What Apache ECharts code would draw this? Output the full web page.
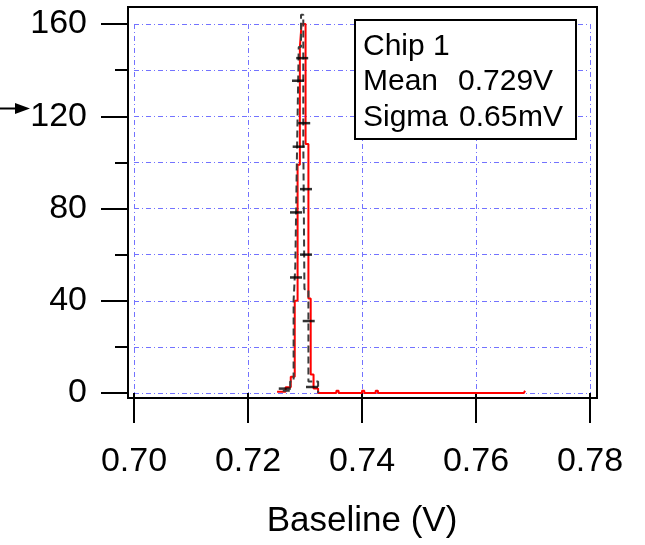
<!DOCTYPE html>
<html>
<head>
<meta charset="utf-8">
<script src="https://cdn.jsdelivr.net/npm/echarts@6/dist/echarts.min.js"></script>
<style>
  html, body { margin: 0; padding: 0; background: #fff; }
  #chart { width: 645px; height: 545px; }
</style>
</head>
<body>
<div id="chart"></div>
<script>
// fitted histogram (red): left bin edge in V, count from that edge on
const redEdges = [0.7251, 0.7266, 0.7275, 0.7282, 0.7287, 0.7291, 0.7294, 0.7301, 0.7306, 0.7310, 0.7315, 0.7323,
  0.7355, 0.7359, 0.7400, 0.7404, 0.7424, 0.7428, 0.7684, 0.7686];
const redCounts = [0.5, 2.5, 7, 40, 99, 150, 160, 108, 41, 8, 2, 0,
  1, 0, 1, 0, 1, 0, 0, 1];

// measured histogram (black dashed)
const blackEdges = [0.7261, 0.7274, 0.7280, 0.7283, 0.7286, 0.7289, 0.7293, 0.7297, 0.7299, 0.7306, 0.7323];
const blackCounts = [1, 5, 40, 55, 105, 150, 164, 110, 45, 5, 0];

// error bar caps
const capX = [0.72951, 0.72877, 0.72986, 0.72889, 0.73018, 0.72842, 0.73018, 0.72842, 0.73065, 0.73123, 0.72645];
const capY = [145.2, 135.4, 117.0, 106.8, 88.4, 78.3, 60.0, 50.1, 31.2, 2.6, 1.9];

const xTicks = { min: 0.70, max: 0.78, step: 0.02 };
const yTicks = { min: 0, max: 160, step: 40 };

const chipName = 'Chip 1';
const meanText = ['Mean', '0.729V'];
const sigmaText = ['Sigma', '0.65', 'mV'];

const font = 'Liberation Sans, Arial, sans-serif';
const gridStyle = { color: '#7373ff', width: 1, type: [5, 3, 1, 3] };

const chart = echarts.init(document.getElementById('chart'));

function txt(s, x, y) {
  return {
    type: 'text', z: 102, x: x, y: y,
    style: { text: s, fill: '#000', font: '30px ' + font, textVerticalAlign: 'top' }
  };
}

const option = {
  backgroundColor: '#fff',
  animation: false,
  grid: { left: 134, right: 55, top: 24, bottom: 152 },
  xAxis: {
    type: 'value',
    min: xTicks.min, max: xTicks.max, interval: xTicks.step,
    offset: 5,
    axisLine: { show: false },
    axisTick: { length: 30, lineStyle: { color: '#000', width: 2 } },
    axisLabel: {
      color: '#000', fontSize: 34, fontFamily: font, margin: 47,
      formatter: v => v.toFixed(2)
    },
    splitLine: { show: true, lineStyle: gridStyle },
    name: 'Baseline (V)',
    nameLocation: 'middle',
    nameGap: 106,
    nameTextStyle: { color: '#000', fontSize: 35, fontFamily: font }
  },
  yAxis: {
    type: 'value',
    min: yTicks.min, max: yTicks.max, interval: yTicks.step,
    offset: 6,
    axisLine: { show: false },
    axisTick: { length: 27, lineStyle: { color: '#000', width: 2 } },
    minorTick: { show: true, splitNumber: 2, length: 13, lineStyle: { color: '#000', width: 2 } },
    axisLabel: { color: '#000', fontSize: 34, fontFamily: font, margin: 41 },
    splitLine: { show: true, lineStyle: gridStyle },
    minorSplitLine: { show: true, lineStyle: gridStyle }
  },
  series: [
    {
      type: 'line',
      step: 'end',
      symbol: 'none',
      clip: false,
      z: 3,
      lineStyle: { color: '#ff0000', width: 2 },
      data: redEdges.map((x, i) => [x, redCounts[i]])
    },
    {
      type: 'line',
      step: 'end',
      symbol: 'none',
      clip: false,
      z: 4,
      lineStyle: { color: '#3c3c3c', width: 2, type: [7, 4] },
      data: blackEdges.map((x, i) => [x, blackCounts[i]])
    },
    {
      type: 'scatter',
      symbol: 'rect',
      symbolSize: [12, 2.5],
      clip: false,
      z: 5,
      itemStyle: { color: '#000' },
      data: capX.map((x, i) => [x, capY[i]])
    }
  ],
  graphic: [
    // plot frame
    {
      type: 'rect', z: 100,
      shape: { x: 128, y: 7, width: 469, height: 391 },
      style: { fill: 'none', stroke: '#000', lineWidth: 2 }
    },
    // info box
    {
      type: 'rect', z: 101,
      shape: { x: 355, y: 20, width: 221, height: 119 },
      style: { fill: '#fff', stroke: '#000', lineWidth: 2 }
    },
    txt(chipName, 363, 32),
    txt(meanText[0], 363, 67),
    txt(meanText[1], 458, 67),
    txt(sigmaText[0], 363, 103),
    txt(sigmaText[1], 459, 103),
    txt(sigmaText[2], 518, 103),
    // arrow pointing at the 120 label
    {
      type: 'line', z: 100,
      shape: { x1: 0, y1: 108.5, x2: 17, y2: 108.5 },
      style: { stroke: '#000', lineWidth: 2 }
    },
    {
      type: 'polygon', z: 100,
      shape: { points: [[15, 103], [30, 108.5], [15, 114]] },
      style: { fill: '#000' }
    }
  ]
};

chart.setOption(option);
</script>
</body>
</html>
